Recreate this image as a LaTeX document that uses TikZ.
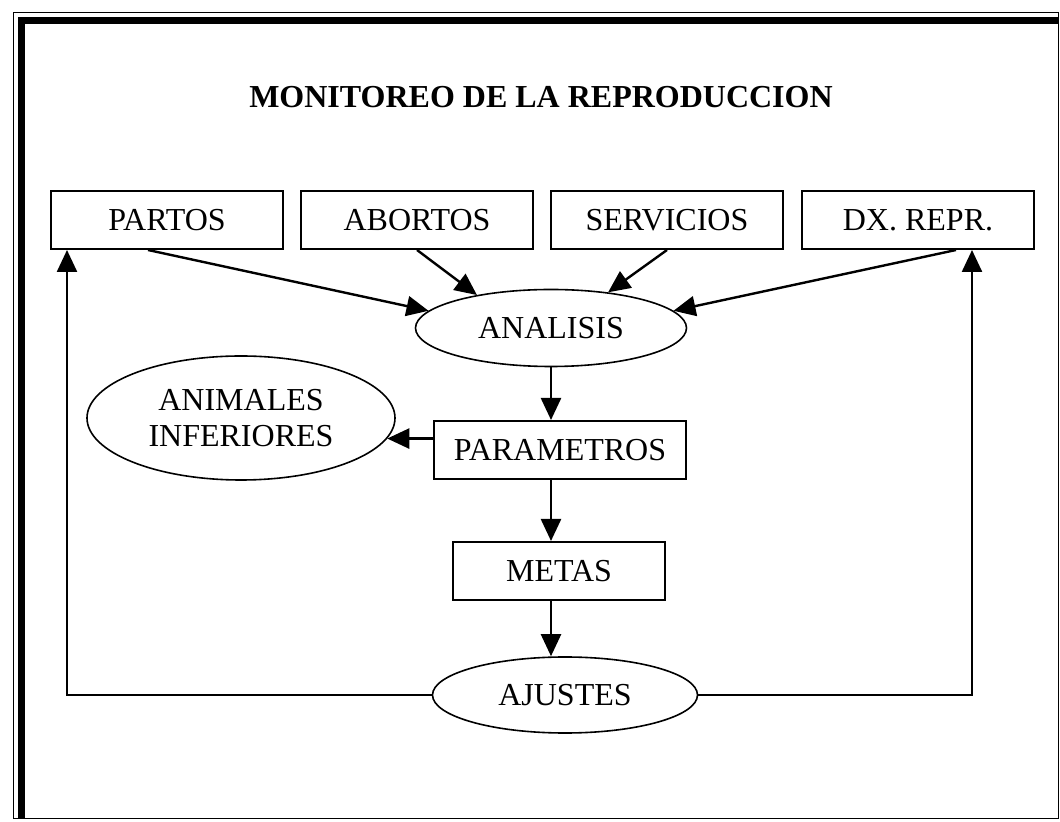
\documentclass[tikz,border=0pt]{standalone}
\usepackage{fontspec}
\setmainfont{Liberation Serif}
\usetikzlibrary{arrows.meta, shapes.geometric, calc}
\tikzset{
  every node/.style = {font=\fontsize{16}{18}\selectfont},
  mrbox/.style  = {draw, line width=1pt, minimum height=29pt, inner sep=0pt},
  mrell/.style  = {draw, ellipse, line width=0.8pt, inner sep=0pt, align=center},
  mrgo/.style   = {-{Triangle[length=11pt,width=10pt]}, line width=1.2pt},
  mrhead/.style = {font=\fontsize{16}{19}\selectfont\bfseries},
}
\begin{document}
\begin{tikzpicture}[x=0.5pt, y=-0.5pt]
\useasboundingbox (0,0) rectangle (1060,822);

% marco
\draw[line width=0.5pt] (13,13) rectangle (1058,818);
\draw[line width=3.5pt] (21,818) -- (21,21) -- (1058,21);

\node[mrhead] (T) at (541,97) {MONITOREO DE LA REPRODUCCION};

\foreach \n/\x/\t in {P/167/PARTOS, A/417/ABORTOS, S/667/SERVICIOS, D/918/DX. REPR.}{
  \node[mrbox, minimum width=116pt] (\n) at (\x,220) {\t};
}

\node[mrell, minimum width=135.5pt, minimum height=38.5pt] (N) at (551,328) {ANALISIS};
\node[mrbox, minimum width=126pt] (R) at (560,450) {PARAMETROS};
\node[mrell, minimum width=154pt, minimum height=62pt] (K) at (241,418) {ANIMALES\\INFERIORES};
\node[mrbox, minimum width=106pt] (M) at (559,571) {METAS};
\node[mrell, minimum width=132.5pt, minimum height=38pt] (J) at (565,695) {AJUSTES};

% entradas
\draw[mrgo] ($(P.south)+(-19,0)$) -- (N.172);
\draw[mrgo] (A.south) -- (N.156);
\draw[mrgo] (S.south) -- (N.32);
\draw[mrgo] ($(D.south east)+(-79,0)$) -- (N.8);

\draw[mrgo] (N.south) -- (N.south |- R.north);
\draw[mrgo] (R.west |- K.-8) -- (K.-8);
\draw[mrgo] (N.south |- R.south) -- (N.south |- M.north);
\draw[mrgo] (N.south |- M.south) -- (N.south |- J.north);

% retorno
\draw[mrgo] (J.west) -| ($(P.south west)+(17,0)$);
\draw[mrgo] (J.east) -| ($(D.south east)+(-63,0)$);
\end{tikzpicture}
\end{document}
